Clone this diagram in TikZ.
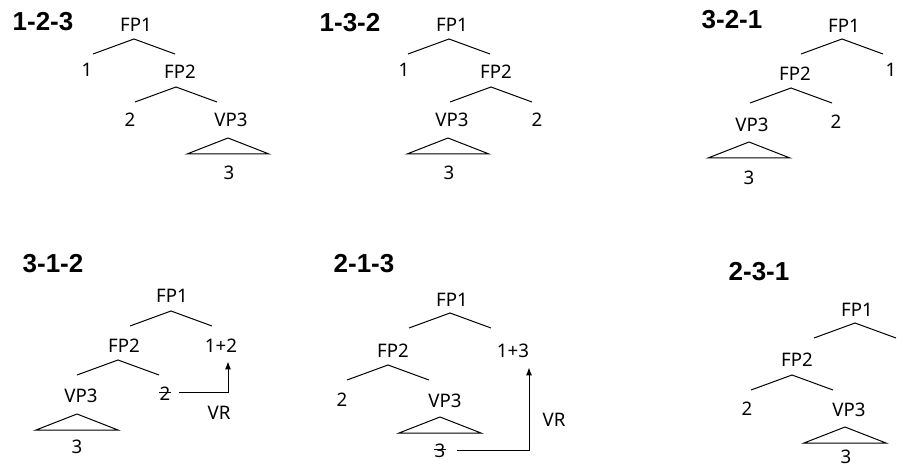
\documentclass[tikz,border=0pt]{standalone}
\usepackage{fontspec}
\setmainfont{Noto Sans}
\newfontfamily\ttlfont{Liberation Sans}
\usetikzlibrary{calc,arrows.meta}
\tikzset{
  lbl/.style={font=\fontsize{14}{16}\selectfont, inner sep=1pt},
  ttl/.style={font=\ttlfont\bfseries\fontsize{19.5}{22}\selectfont, inner sep=0pt},
  ln/.style={line width=0.75pt},
  arr/.style={line width=0.75pt, -{Latex[length=6pt,width=4.5pt]}},
  pics/br/.style={code={\draw[ln] (-41,15) -- (0,0) -- (41,15);}},
  pics/tri/.style={code={\draw[ln] (-41,16) -- (0,0) -- (41,16) -- cycle;}},
}
\begin{document}
\begin{tikzpicture}[x=0.75pt,y=-0.75pt]
\fill[white] (0,0) rectangle (903,470);
\useasboundingbox (0,0) rectangle (903,470);

% ---------- Panel 1: 1-2-3 ----------
\node[ttl] (t1) at (43,22) {1-2-3};
\node[lbl] (a1) at (136,25) {FP1};
\pic at (134,39) {br};
\node[lbl] (a1x) at (87,70) {1};
\node[lbl] (a2) at (180,72) {FP2};
\pic at (176,87) {br};
\node[lbl] (a2x) at (130,120) {2};
\node[lbl] (a3) at (231,120) {VP3};
\pic at (228,138) {tri};
\node[lbl] (a3x) at (229,173) {3};

% ---------- Panel 2: 1-3-2 ----------
\node[ttl] (t2) at (350,23) {1-3-2};
\node[lbl] (b1) at (452,25) {FP1};
\pic at (449,39) {br};
\node[lbl] (b1x) at (404,70) {1};
\node[lbl] (b2) at (496,72) {FP2};
\pic at (491,87) {br};
\node[lbl] (b3) at (452,120) {VP3};
\node[lbl] (b2x) at (537,120) {2};
\pic at (448,138) {tri};
\node[lbl] (b3x) at (449,173) {3};

% ---------- Panel 3: 3-2-1 ----------
\node[ttl] (t3) at (732,20) {3-2-1};
\node[lbl] (c1) at (844,26) {FP1};
\pic at (842,39) {br};
\node[lbl] (c1x) at (891,70) {1};
\node[lbl] (c2) at (795,74) {FP2};
\pic at (791,88) {br};
\node[lbl] (c3) at (752,125) {VP3};
\node[lbl] (c2x) at (836,122) {2};
\pic at (749,142) {tri};
\node[lbl] (c3x) at (749,178) {3};

% ---------- Panel 4: 3-1-2 ----------
\node[ttl] (t4) at (53,264) {3-1-2};
\node[lbl] (d1) at (172,296) {FP1};
\pic at (171,311) {br};
\node[lbl] (d2) at (124,346) {FP2};
\node[lbl] (d12) at (221,346) {1+2};
\pic at (118,360) {br};
\node[lbl] (d3) at (81,396) {VP3};
\node[lbl] (d2x) at (165,393.5) {2};
\draw[ln] ($(d2x.center)+(-6,-1.5)$) -- ($(d2x.center)+(6,-1.5)$);
\draw[arr] ($(d2x.east)+(7,-1.5)$) -| ($(d12.south)+(7,7)$);
\node[lbl] (d4) at (219,413) {VR};
\pic at (77,414) {tri};
\node[lbl] (d3x) at (77,447) {3};

% ---------- Panel 5: 2-1-3 ----------
\node[ttl] (t5) at (364,264) {2-1-3};
\node[lbl] (e1) at (452,300) {FP1};
\pic at (450,313) {br};
\node[lbl] (e2) at (393,351) {FP2};
\node[lbl] (e13) at (513,351) {1+3};
\pic at (388,365) {br};
\node[lbl] (e2x) at (342,400) {2};
\node[lbl] (e3) at (445,401) {VP3};
\pic at (440,417) {tri};
\node[lbl] (e3x) at (440,451) {3};
\draw[ln] ($(e3x.center)+(-6,-2)$) -- ($(e3x.center)+(6,-2)$);
\draw[arr] ($(e3x.east)+(10,-1)$) -| ($(e13.south)+(16,8)$);
\node[lbl] (e4) at (554,420) {VR};

% ---------- Panel 6: 2-3-1 ----------
\node[ttl] (t6) at (759,272) {2-3-1};
\node[lbl] (f1) at (857,310) {FP1};
\pic at (855,323) {br};
\node[lbl] (f2) at (797,360) {FP2};
\pic at (792,375) {br};
\node[lbl] (f2x) at (747,409) {2};
\node[lbl] (f3) at (849,410) {VP3};
\pic at (845,427) {tri};
\node[lbl] (f3x) at (846,457) {3};
\end{tikzpicture}
\end{document}
